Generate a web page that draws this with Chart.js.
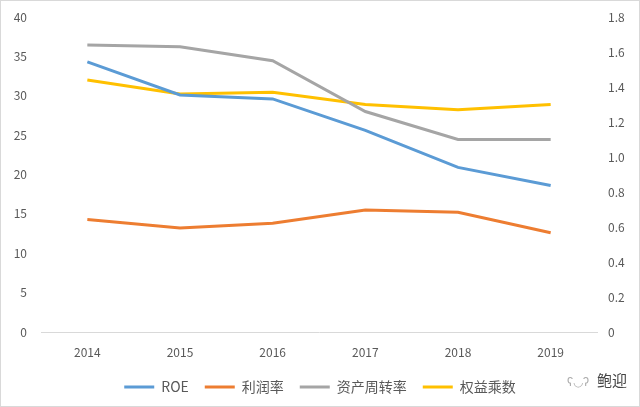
<!DOCTYPE html>
<html>
<head>
<meta charset="utf-8">
<script src="https://cdn.jsdelivr.net/npm/chart.js@4/dist/chart.umd.min.js"></script>
<style>
  html, body { margin: 0; padding: 0; background: #fff; }
  #wrap { position: relative; width: 638px; height: 405px; border: 1px solid #d9d9d9; }
  #mark { position: absolute; right: 12px; bottom: 16px; font: 15px "Noto Sans CJK SC", sans-serif; color: #444; }
  #mark span { color: #aaa; font-size: 12px; margin-right: 8px; }
</style>
</head>
<body>
<div id="wrap">
  <canvas id="line" width="638" height="405"></canvas>
  <div id="mark"><span>ʕ◡ʔ</span>鲍迎</div>
</div>
<script>
const years = ['2014', '2015', '2016', '2017', '2018', '2019'];
const roe = [34.3, 30.1, 29.6, 25.6, 20.9, 18.6];
const profitRate = [14.3, 13.2, 13.8, 15.5, 15.2, 12.6];
const assetTurnover = [1.64, 1.63, 1.55, 1.26, 1.10, 1.10];
const equityMultiplier = [1.44, 1.36, 1.37, 1.30, 1.27, 1.30];

const font = { family: '"Noto Sans CJK SC", "Noto Sans", sans-serif', size: 12 };
const legendFont = { family: '"Noto Sans CJK SC", "Noto Sans", sans-serif', size: 14 };
const textColor = '#595959';

const mkLine = (label, data, color, axis) => ({
  label: label,
  data: data,
  borderColor: color,
  backgroundColor: color,
  borderWidth: 3,
  pointRadius: 0,
  tension: 0,
  yAxisID: axis,
});

// keep the plot box where the reference has it
const fitY = (w) => (s) => { s.width = w; s.paddingTop = 0; s.paddingBottom = 0; };

const lineConfig = {
  type: 'line',
  data: {
    labels: years,
    datasets: [
      mkLine('ROE', roe, '#5b9bd5', 'y'),
      mkLine('利润率', profitRate, '#ed7d31', 'y'),
      mkLine('资产周转率', assetTurnover, '#a5a5a5', 'y1'),
      mkLine('权益乘数', equityMultiplier, '#ffc000', 'y1'),
    ],
  },
  options: {
    responsive: false,
    animation: false,
    layout: {padding: {top: 16, right: 0, bottom: 2, left: 0}},
    plugins: {
      legend: {
        position: 'bottom',
        labels: {
          usePointStyle: true,
          pointStyle: 'line',
          pointStyleWidth: 30,
          boxWidth: 30,
          boxHeight: 3,
          padding: 16,
          color: textColor,
          font: legendFont,
        },
      },
      tooltip: {enabled: false},
    },
    scales: {
      x: {
        offset: true,
        grid: {display: false, drawTicks: false},
        border: {display: true, color: '#d9d9d9', width: 1},
        ticks: {color: textColor, font: font, padding: 13},
        afterFit: (s) => { s.height = 32; },
      },
      y: {
        position: 'left',
        min: 0, max: 40,
        grid: {display: false, drawTicks: false},
        border: {display: false},
        ticks: {stepSize: 5, color: textColor, font: font, padding: 14},
        afterFit: fitY(40),
      },
      y1: {
        position: 'right',
        min: 0, max: 1.8,
        grid: {display: false, drawTicks: false},
        border: {display: false},
        ticks: {stepSize: 0.2, color: textColor, font: font, padding: 11},
        afterFit: fitY(42),
      },
    },
  },
};

const lineCtx = document.getElementById('line');
if (lineCtx) {
  window.myLine = new Chart(lineCtx, lineConfig);
}
</script>
</body>
</html>
